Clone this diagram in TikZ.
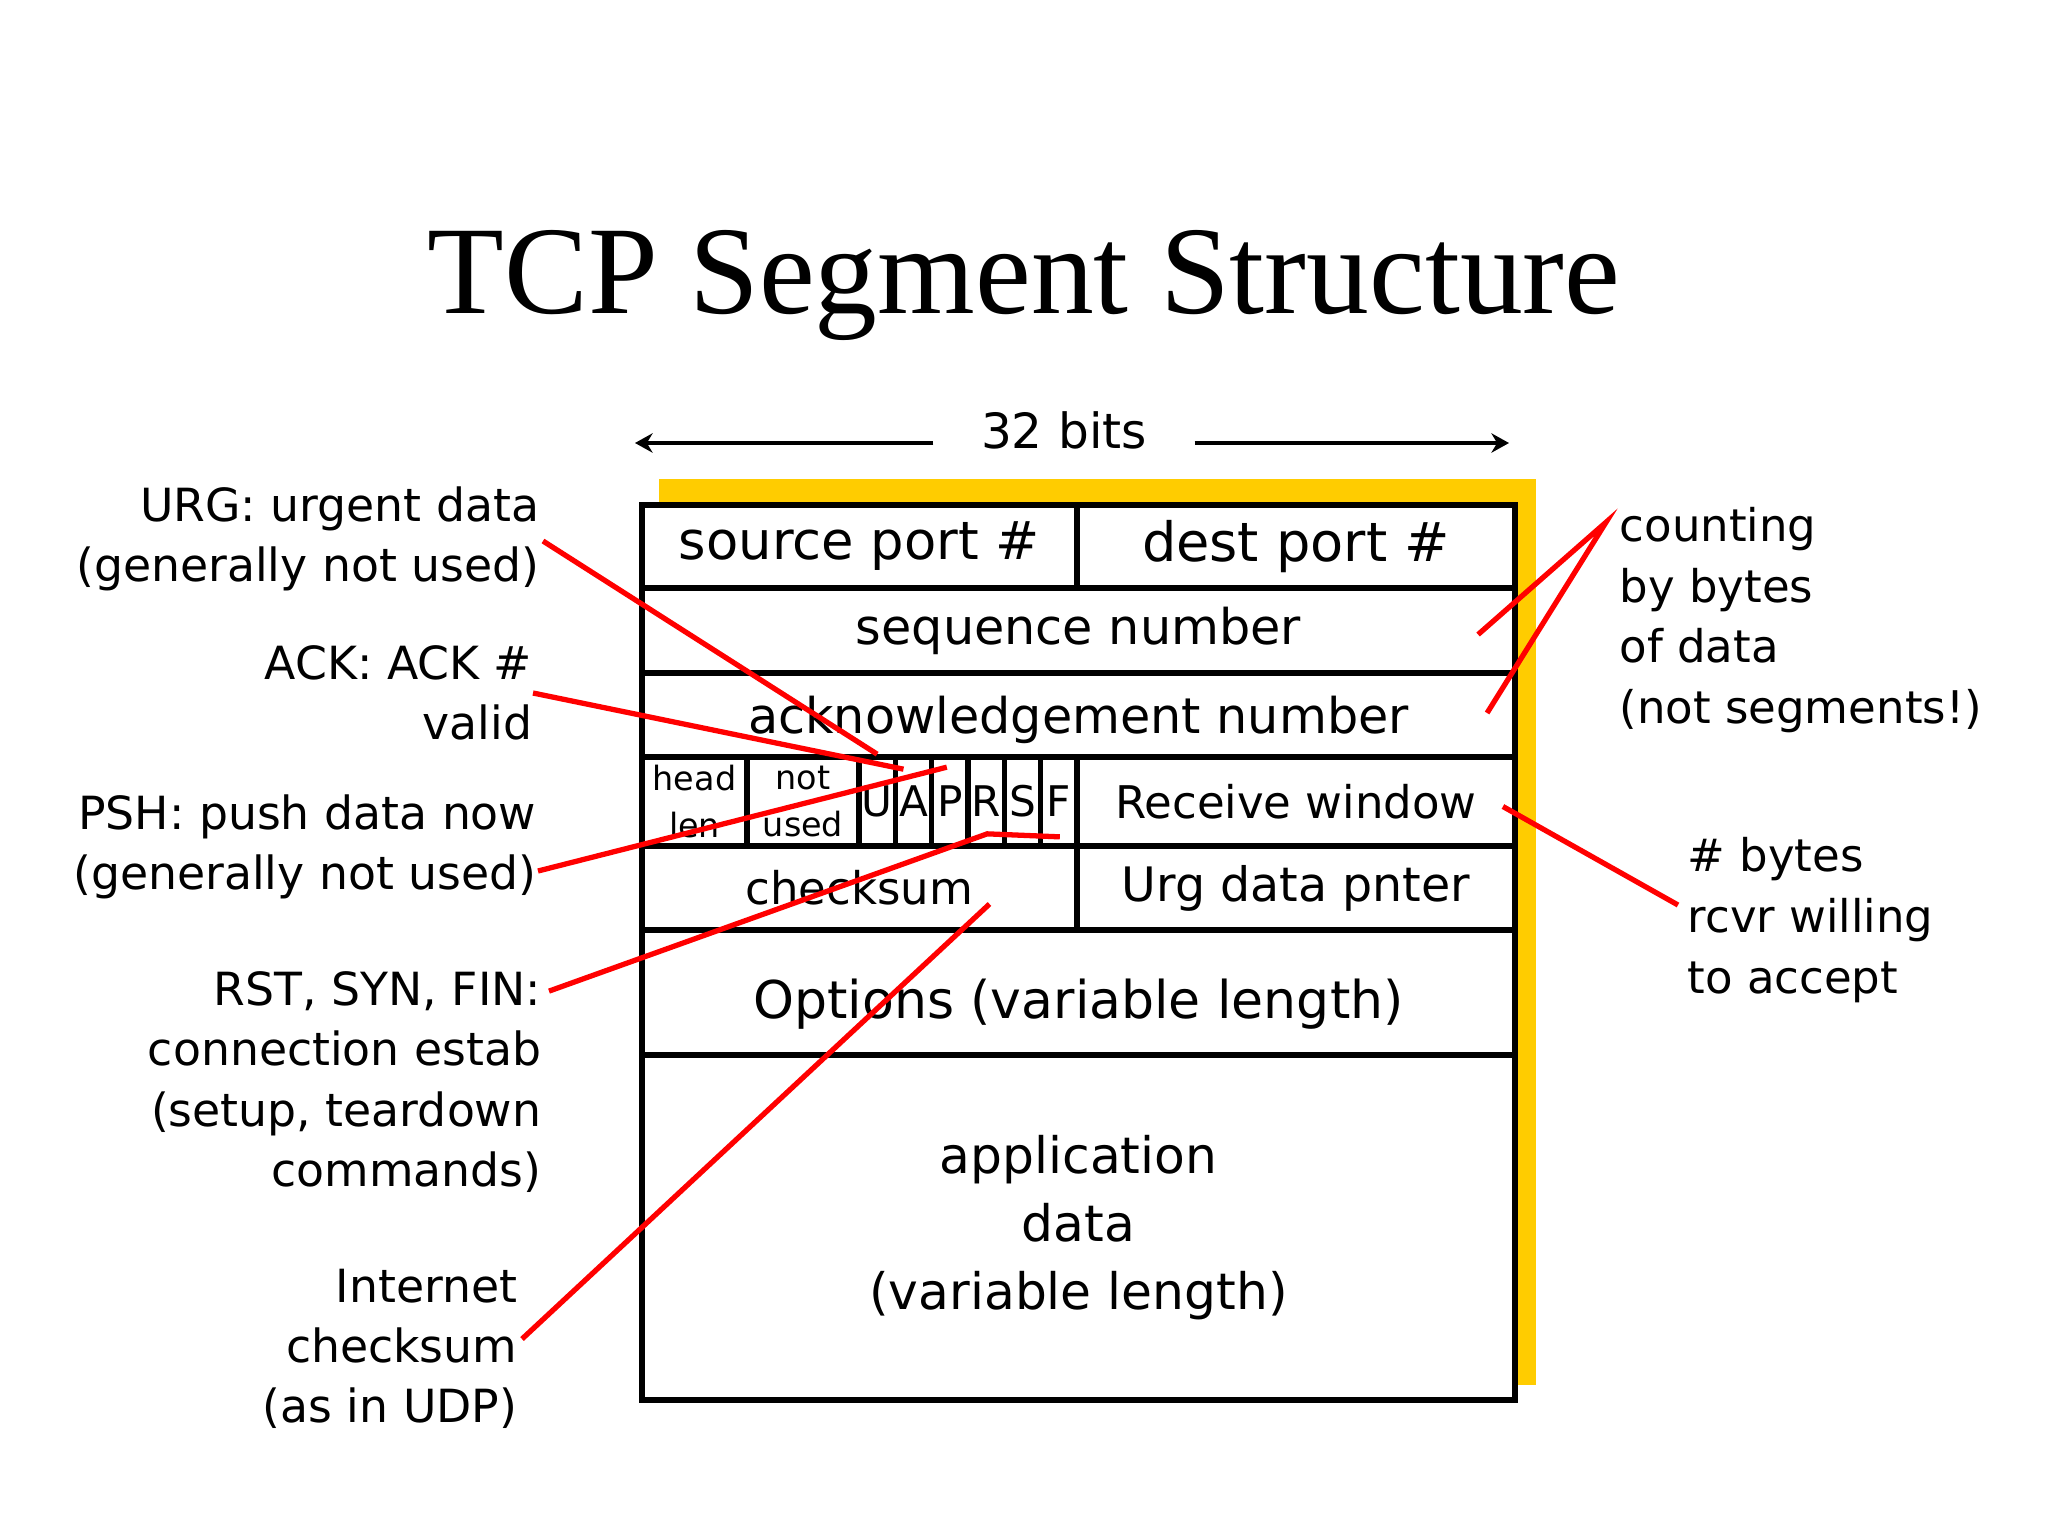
\documentclass[tikz,border=0pt]{standalone}
\usepackage{fontspec}
\setmainfont{DejaVu Sans}
\newfontfamily\titlefont{Liberation Serif}
\usetikzlibrary{positioning,arrows.meta,calc}
\definecolor{hdrgold}{RGB}{255,204,0}
\definecolor{notered}{RGB}{255,0,0}

\begin{document}
\begin{tikzpicture}[
x=0.01cm,y=-0.01cm,
cell/.style={draw,fill=white,line width=1.6pt,inner sep=0pt,align=center},
flag/.style={cell,minimum width=0.3633cm,minimum height=0.89cm,font=\fontsize{12}{14}\selectfont},
lbl/.style={inner sep=0pt,font=\fontsize{13}{17.1}\selectfont},
rlbl/.style={inner sep=0pt,align=left,anchor=west,font=\fontsize{12.8}{17.3}\selectfont},
note/.style={draw=notered,line width=1.5pt},
>={Stealth[length=5pt,width=5.5pt]}]
\useasboundingbox[fill=white] (0,0) rectangle (2048,1536);

\node[anchor=base,inner sep=0pt,font=\titlefont\fontsize{35.7}{40}\selectfont] (title) at (1024,313) {TCP Segment Structure};

% width arrow
\node[inner ysep=0pt,inner xsep=0.47cm,font=\fontsize{13.8}{16}\selectfont] (bits) at (1064,430) {32 bits};
\coordinate (bitsL) at (635,443);
\coordinate (bitsR) at (1509,443);
\draw[->,line width=1.3pt] (bits.west |- bitsL) -- (bitsL);
\draw[->,line width=1.3pt] (bits.east |- bitsR) -- (bitsR);

% shadow
\fill[hdrgold] (659,479) rectangle (1536,1385);

% header fields
\node[cell,minimum width=4.35cm,minimum height=0.83cm,font=\fontsize{15}{18}\selectfont] (src) at (859.5,546.5) {source port \#};
\node[cell,minimum width=4.38cm,minimum height=0.83cm,font=\fontsize{15.4}{18}\selectfont] (dst) at (1296,546.5) {dest port \#};
\node[cell,minimum width=8.73cm,minimum height=0.85cm,font=\fontsize{14}{17}\selectfont] (seq) at (1078.5,630.5) {sequence number};
\node[cell,minimum width=8.73cm,minimum height=0.84cm,text height=14pt,text depth=3.3pt,font=\fontsize{14}{17}\selectfont] (ack) at (1078.5,715) {acknowledgement number};
\node[cell,minimum width=1.05cm,minimum height=0.89cm,font=\fontsize{9.5}{13.4}\selectfont] (hlen) at (694.5,801.5) {head\\len};
\node[cell,minimum width=1.12cm,minimum height=0.89cm,font=\fontsize{9.5}{13.4}\selectfont] (unused) at (803,801.5) {not\\used};
\foreach \f [count=\i] in {U,A,P,R,S,F}
  \node[flag] (f\f) at ({859+36.33*(\i-0.5)},801.5) {\f};
\node[cell,minimum width=4.38cm,minimum height=0.89cm,font=\fontsize{12.8}{15}\selectfont] (rwnd) at (1296,801.5) {Receive window};
\node[cell,minimum width=4.35cm,minimum height=0.84cm,font=\fontsize{12.8}{15}\selectfont] (csum) at (859.5,888) {checksum};
\node[cell,minimum width=4.38cm,minimum height=0.84cm,font=\fontsize{13.5}{16}\selectfont] (urgp) at (1296,888) {Urg data pnter};
\node[cell,minimum width=8.73cm,minimum height=1.25cm,text height=18.5pt,text depth=3.6pt,font=\fontsize{14.8}{18}\selectfont] (opts) at (1078.5,992.5) {Options (variable length)};
\node[cell,minimum width=8.73cm,minimum height=3.45cm,font=\fontsize{14.3}{19.3}\selectfont] (data) at (1078.5,1227.5) {application\\data\\(variable length)};

% left notes
\node[lbl,align=right,anchor=east] (urglbl) at (540,539) {URG: urgent data\\(generally not used)};
\node[lbl,align=right,anchor=east] (acklbl) at (533,693) {ACK: ACK \#\\valid};
\node[lbl,align=right,anchor=east] (pshlbl) at (537,847) {PSH: push data now\\(generally not used)};
\node[lbl,align=right,anchor=east] (rstlbl) at (542,1082) {RST, SYN, FIN:\\connection estab\\(setup, teardown\\commands)};
\node[lbl,align=right,anchor=east] (csumlbl) at (518,1349) {Internet\\checksum\\(as in UDP)};

% right notes
\node[rlbl] (seqlbl) at (1619,620) {counting\\by bytes\\of data\\(not segments!)};
\node[rlbl] (rwndlbl) at (1687,920) {\# bytes\\rcvr willing\\to accept};

% red pointers
\draw[note] ($(urglbl.east)+(3,2)$) -- (fU.north);
\draw[note] (acklbl.east) -- ($(fA.north)+(-10,15)$);
\draw[note] ($(pshlbl.east)+(1,24)$) -- ($(fP.north)+(-3,13)$);
\draw[note] ($(rstlbl.north east)+(7,20)$) -- ($(fR.south)+(1,-15)$) -- ($(fF.south)+(1,-12)$);
\draw[note] ($(csumlbl.east)+(4,-10)$) -- ($(csum.center)+(130,16)$);
\draw[note] ($(seq.east)+(-40,4)$) -- ($(seqlbl.north west)+(-13,16)$) -- ($(ack.east)+(-31,-2)$);
\draw[note] ($(rwnd.east)+(-15,5)$) -- ($(rwndlbl.west)+(-9,-15)$);
\end{tikzpicture}
\end{document}
